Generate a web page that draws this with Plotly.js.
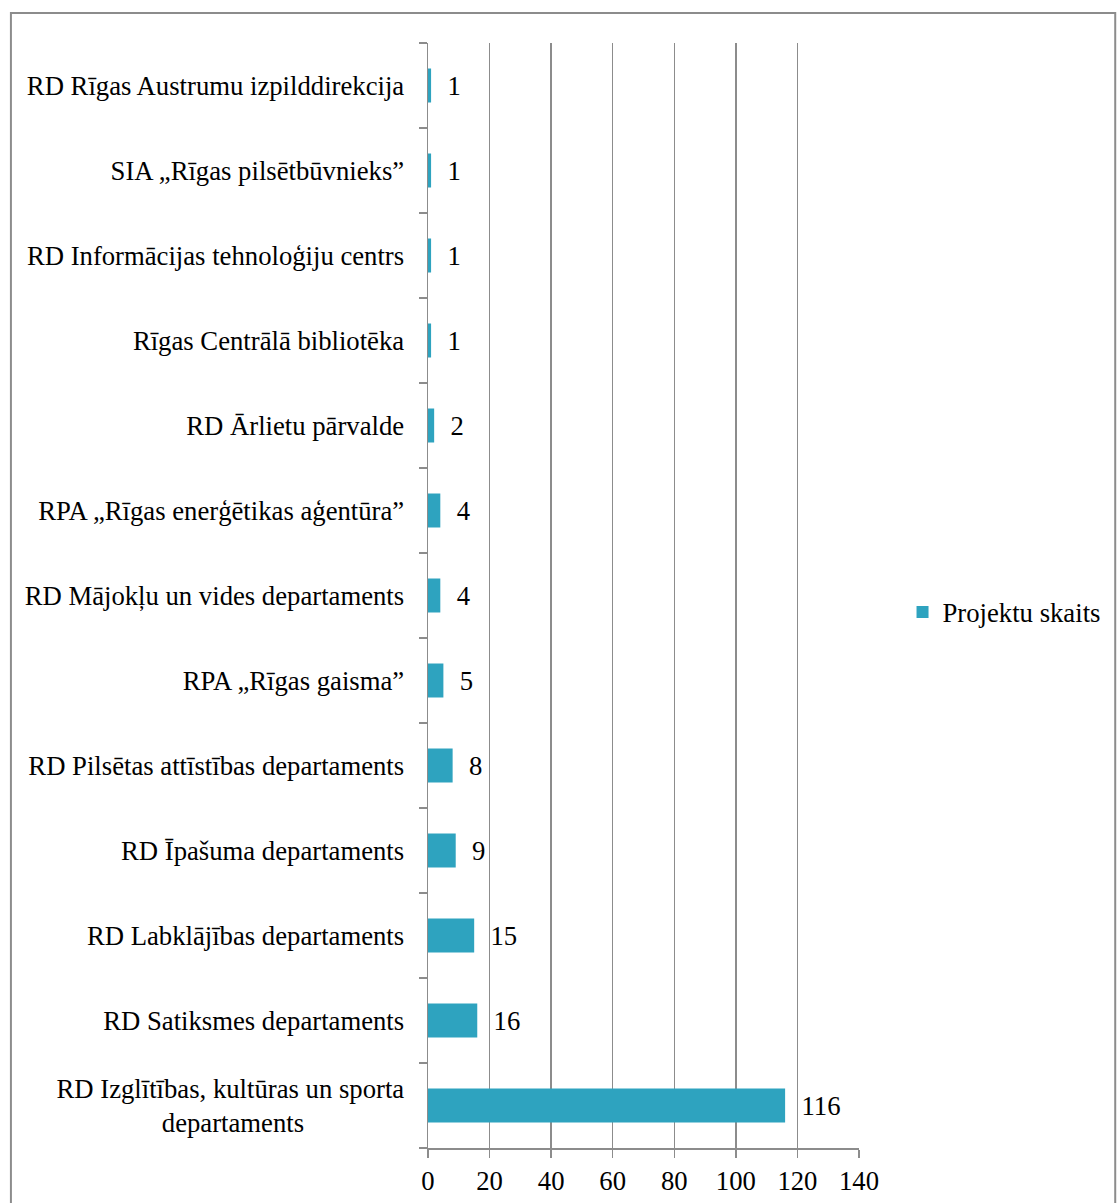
<!DOCTYPE html>
<html>
<head>
<meta charset="utf-8">
<script src="https://cdn.plot.ly/plotly-3.0.1.min.js"></script>
<style>html,body{margin:0;padding:0;background:#fff;}#chart{width:1117px;height:1203px;}</style>
</head>
<body>
<div id="chart"></div>
<script>
// Categories listed bottom to top
const categories = [
  "RD Izglītības, kultūras un sporta<br>departaments" + "\u00a0".repeat(15),
  "RD Satiksmes departaments",
  "RD Labklājības departaments",
  "RD Īpašuma departaments",
  "RD Pilsētas attīstības departaments",
  "RPA \u201eRīgas gaisma\u201d",
  "RD Mājokļu un vides departaments",
  "RPA \u201eRīgas enerģētikas aģentūra\u201d",
  "RD Ārlietu pārvalde",
  "Rīgas Centrālā bibliotēka",
  "RD Informācijas tehnoloģiju centrs",
  "SIA \u201eRīgas pilsētbūvnieks\u201d",
  "RD Rīgas Austrumu izpilddirekcija"
];
const projectCounts = [116, 16, 15, 9, 8, 5, 4, 4, 2, 1, 1, 1, 1];
const seriesName = "Projektu skaits";
const xTicks = [0, 20, 40, 60, 80, 100, 120, 140];

const font = {family: "Liberation Serif", size: 26.7, color: "#000"};
const gray = "#8c8c8c";

const trace = {
  type: "bar",
  orientation: "h",
  y: categories,
  x: projectCounts,
  name: seriesName,
  width: 0.4,
  marker: {color: "#2ea3bf", line: {width: 0}},
  text: projectCounts.map(String),
  texttemplate: "\u00a0\u00a0%{text}",
  textposition: "outside",
  cliponaxis: false,
  textfont: font,
  showlegend: true
};

const layout = {
  width: 1117, height: 1203,
  margin: {l: 428, r: 255, t: 43, b: 55},
  paper_bgcolor: "#fff", plot_bgcolor: "#fff",
  font: font,
  showlegend: true,
  legend: {x: 1.101, xanchor: "left", y: 0.485, yanchor: "middle", font: font, bgcolor: "rgba(0,0,0,0)"},
  xaxis: {
    range: [0, 140], tickvals: xTicks, ticktext: xTicks.map(String),
    showgrid: true, gridcolor: gray, gridwidth: 1.5,
    showline: true, linecolor: gray, linewidth: 1.5,
    ticks: "outside", ticklen: 8, tickcolor: gray, tickwidth: 1.5,
    tickfont: font, zeroline: false, fixedrange: true
  },
  yaxis: {
    type: "category",
    showgrid: false,
    showline: true, linecolor: gray, linewidth: 1.5,
    ticks: "outside", ticklen: 8, tickcolor: gray, tickwidth: 1.5,
    tickson: "boundaries",
    ticklabelstandoff: 17,
    tickfont: font, zeroline: false, fixedrange: true
  },
  shapes: [{
    type: "rect", xref: "paper", yref: "paper",
    x0: -0.9677, x1: 1.5945, y0: -0.0561, y1: 1.0271,
    line: {color: gray, width: 2}, fillcolor: "rgba(0,0,0,0)", layer: "below"
  }]
};

Plotly.newPlot("chart", [trace], layout, {displayModeBar: false, staticPlot: true});
</script>
</body>
</html>
